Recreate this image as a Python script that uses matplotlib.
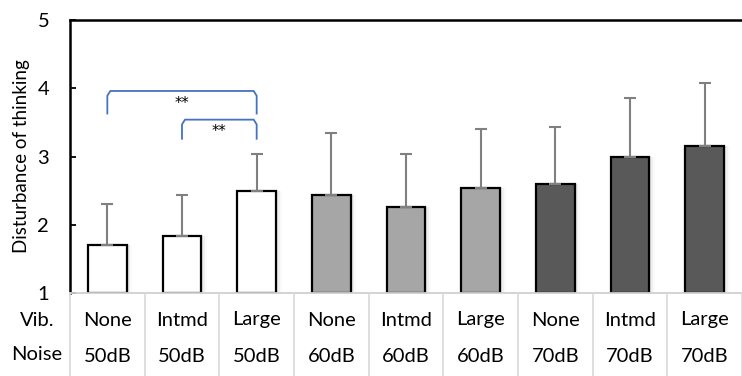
import matplotlib
matplotlib.use("Agg")
import matplotlib.pyplot as plt
import numpy as np

plt.rcParams['font.family'] = ['Lato', 'DejaVu Sans']

vib = ["None", "Intmd", "Large", "None", "Intmd", "Large", "None", "Intmd", "Large"]
noise = ["50dB", "50dB", "50dB", "60dB", "60dB", "60dB", "70dB", "70dB", "70dB"]
means = [1.70, 1.83, 2.49, 2.44, 2.26, 2.54, 2.60, 3.00, 3.15]
err_top = [2.30, 2.44, 3.04, 3.35, 3.04, 3.41, 3.43, 3.86, 4.07]
noise_colors = {"50dB": "#ffffff", "60dB": "#a6a6a6", "70dB": "#595959"}
row_labels = ["Vib.", "Noise"]
ylabel = "Disturbance of thinking"
sig_pairs = [(0, 2, 3.96, 3.63, "**"), (1, 2, 3.54, 3.26, "**")]

W, H = 742, 376
fig = plt.figure(figsize=(W / 100, H / 100), dpi=100)
ax_l, ax_r, ax_t, ax_b = 70, 742, 20, 293
ax = fig.add_axes([ax_l / W, 1 - ax_b / H, (ax_r - ax_l) / W, (ax_b - ax_t) / H])

n = len(means)
x = np.arange(n)
errs = np.array(err_top) - np.array(means)
colors = [noise_colors[nz] for nz in noise]

# subtle shadow
for xi, m in zip(x, means):
    for k, a in enumerate([0.06, 0.04, 0.02]):
        ax.bar(xi + 0.015 * (k + 1), m - 1, bottom=1, width=0.52 + 0.02 * (k + 1),
               color="black", alpha=a, linewidth=0, zorder=1)

ax.bar(x, np.array(means) - 1, bottom=1, width=0.52, color=colors,
       edgecolor="black", linewidth=1.6, zorder=2)
ax.errorbar(x, means, yerr=[np.zeros(n), errs], fmt="none", ecolor="#808080",
            elinewidth=1.5, capsize=4, capthick=1.5, zorder=3)

ax.set_xlim(-0.5, n - 0.5)
ax.set_ylim(1, 5)
ax.set_yticks([1, 2, 3, 4, 5])
ax.set_xticks([])
ax.tick_params(axis="y", direction="in", length=4, width=1.3, labelsize=14.5, pad=15)
for s in ["left", "top"]:
    ax.spines[s].set_color("black")
    ax.spines[s].set_linewidth(1.8)
ax.spines["right"].set_visible(False)
ax.spines["bottom"].set_color("#d0d0d0")
ax.spines["bottom"].set_linewidth(1.3)
ax.set_ylabel(ylabel, fontsize=13.5, labelpad=5)

# significance brackets
blue = "#4472c4"
for i, j, ytop, ylow, txt in sig_pairs:
    dx, dy = 0.04, 0.07
    xs = [i, i, i + dx, j - dx, j, j]
    ys = [ylow, ytop - dy, ytop, ytop, ytop - dy, ylow]
    ax.plot(xs, ys, color=blue, linewidth=1.3, zorder=4, solid_joinstyle="round")
    ax.text((i + j) / 2, ytop - 0.07, txt, ha="center", va="top", fontsize=10.5,
            family="DejaVu Sans")

# table below
tab = fig.add_axes([ax_l / W, 0, (ax_r - ax_l) / W, 1 - ax_b / H])
tab.set_xlim(-0.5, n - 0.5)
tab.set_ylim(0, 83)
tab.axis("off")
for b in np.arange(n + 1) - 0.5:
    tab.plot([b, b], [0, 83], color="#d9d9d9", linewidth=1.2, clip_on=False)
for xi, v, nz in zip(x, vib, noise):
    tab.text(xi, 83 - 27, v, ha="center", va="center", fontsize=14.5)
    tab.text(xi, 83 - 63, nz, ha="center", va="center", fontsize=14.5)
fig.text(37 / W, 1 - 320 / H, row_labels[0], ha="center", va="center", fontsize=14.5)
fig.text(37 / W, 1 - 354 / H, row_labels[1], ha="center", va="center", fontsize=14.5)

fig.savefig("out.png", dpi=100)
